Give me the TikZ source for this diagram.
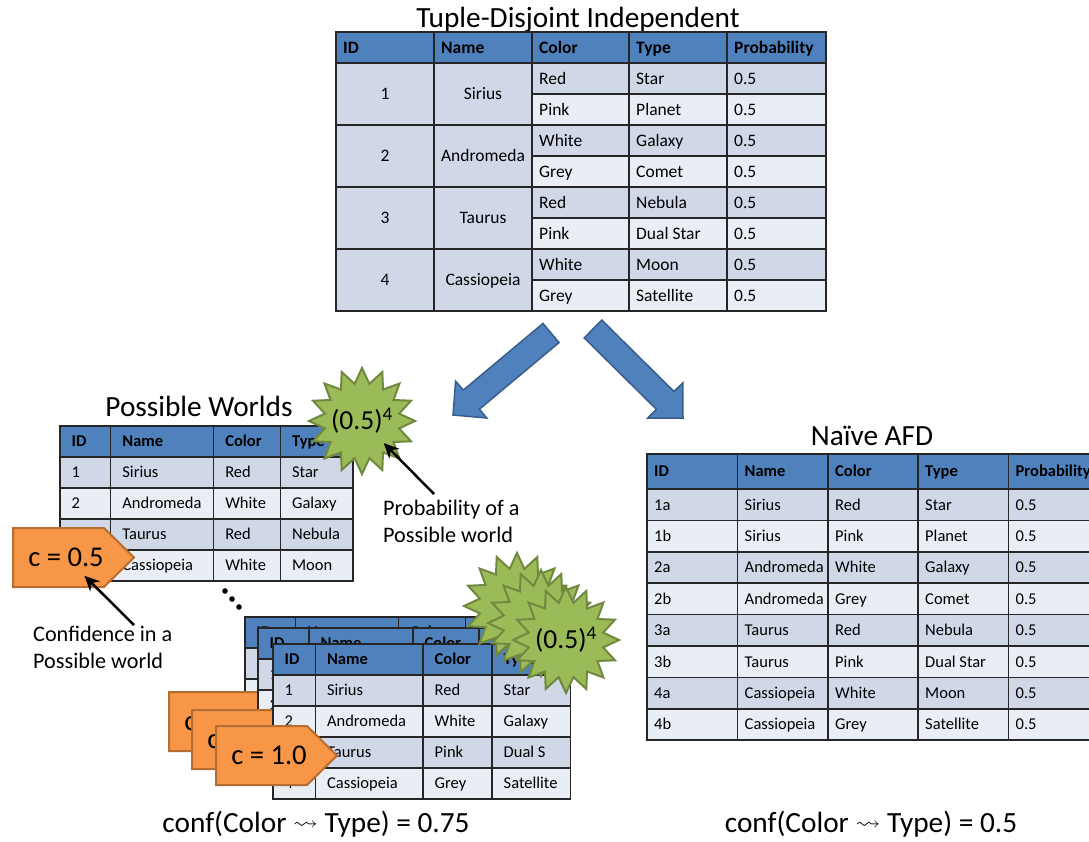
\documentclass[tikz,border=0pt]{standalone}
\usepackage{fontspec}
\setmainfont{Carlito}
\usepackage{amssymb}
\usetikzlibrary{shapes.geometric,arrows.meta}

\definecolor{hdrblue}{HTML}{4F81BD}
\definecolor{rowdark}{HTML}{D0D8E8}
\definecolor{rowlight}{HTML}{E9EDF4}
\definecolor{arrowedge}{HTML}{385D8A}
\definecolor{burstfill}{HTML}{9BBB59}
\definecolor{burstedge}{HTML}{71893F}
\definecolor{tagfill}{HTML}{F79646}
\definecolor{tagedge}{HTML}{B66D31}

\newcommand{\squig}{\raisebox{0.2ex}{\scalebox{0.85}[0.7]{$\rightsquigarrow$}}}

\tikzset{
  gridln/.style={line width=1.5pt,black!85},
  bigtext/.style={inner sep=0pt,anchor=west,text height=11.3pt,text depth=0pt,font=\fontsize{17.5}{20}\selectfont},
  bighead/.style={bigtext,font=\fontsize{17.5}{20}\selectfont\bfseries},
  celltext/.style={inner sep=0pt,anchor=west,text height=10.6pt,text depth=0pt,font=\fontsize{16.5}{18}\selectfont},
  cellhead/.style={celltext,font=\fontsize{16.5}{18}\selectfont\bfseries},
  headline/.style={inner sep=0pt,anchor=base,font=\fontsize{29.3}{32}\selectfont},
  note/.style={inner sep=0pt,anchor=north west,align=left,font=\fontsize{22.2}{27}\selectfont},
  blockarrow/.style={fill=hdrblue,draw=arrowedge,line width=1.5pt,line join=miter},
  burst/.style={star,star points=16,star point ratio=1.4,minimum size=106pt,inner sep=0pt,fill=burstfill,draw=burstedge,line width=2pt},
  bursttext/.style={inner sep=0pt,font=\fontsize{27.5}{30}\selectfont},
  tag/.style={fill=tagfill,draw=tagedge,line width=2pt,line join=miter},
  tagtext/.style={inner sep=0pt,text height=18.4pt,text depth=0pt,font=\fontsize{28.6}{31}\selectfont},
  callout/.style={-{Stealth[length=15pt,width=14pt]},line width=2.5pt}
}

% world table: #1 name, #2 top left, #3/#4/#5 left of Name/Color/Type, #6 width, #7 rows
\newcommand{\worldtable}[7]{%
  \begin{scope}[shift={#2}]
    \fill[hdrblue] (0,0) rectangle (#6,31);
    \foreach \rw/\idn/\nm/\clr/\typ in {#7}{
      \ifodd\rw\relax \def\rowcol{rowdark}\else \def\rowcol{rowlight}\fi
      \fill[\rowcol] (0,31*\rw) rectangle (#6,31*\rw+31);
      \node[celltext] (#1-\rw-id) at (11.5,31*\rw+15.5) {\idn};
      \node[celltext] (#1-\rw-name) at (#3+11.5,31*\rw+15.5) {\nm};
      \node[celltext] (#1-\rw-color) at (#4+11.5,31*\rw+15.5) {\clr};
      \node[celltext] (#1-\rw-type) at (#5+11.5,31*\rw+15.5) {\typ};
    }
    \node[cellhead] (#1-h-id) at (11.5,15.5) {ID};
    \node[cellhead] (#1-h-name) at (#3+11.5,15.5) {Name};
    \node[cellhead] (#1-h-color) at (#4+11.5,15.5) {Color};
    \node[cellhead] (#1-h-type) at (#5+11.5,15.5) {Type};
    \foreach \yy in {31,62,93,124} \draw[gridln] (0,\yy) -- (#6,\yy);
    \foreach \xx in {#3,#4,#5} \draw[gridln] (\xx,0) -- (\xx,155);
    \draw[gridln] (0,0) rectangle (#6,155);
  \end{scope}}

% confidence tag: #1 name, #2 top left, #3 text
\newcommand{\conftag}[3]{%
  \begin{scope}[shift={#2}]
    \draw[tag] (0,0) -- (91,0) -- (121,29.5) -- (91,59) -- (0,59) -- cycle;
    \node[tagtext] (#1) at (53,29.5) {#3};
  \end{scope}}

\begin{document}
\begin{tikzpicture}[x=1pt,y=-1pt]
  \useasboundingbox (0,0) rectangle (1089,841);
  \clip (0,0) rectangle (1089,841);
  \fill[white] (0,0) rectangle (1089,841);

  % tuple-disjoint independent table
  \node[headline] (tdi-title) at (578,27) {Tuple-Disjoint Independent};
  \begin{scope}[shift={(336,32)}]
    \fill[hdrblue] (0,0) rectangle (490,31);
    \foreach \rw/\clr/\typ in {1/Red/Star,2/Pink/Planet,3/White/Galaxy,4/Grey/Comet,5/Red/Nebula,6/Pink/Dual Star,7/White/Moon,8/Grey/Satellite}{
      \ifodd\rw\relax \def\rowcol{rowdark}\else \def\rowcol{rowlight}\fi
      \fill[\rowcol] (196,31*\rw) rectangle (490,31*\rw+31);
      \node[bigtext] (tdi-\rw-color) at (203,31*\rw+15.5) {\clr};
      \node[bigtext] (tdi-\rw-type) at (300,31*\rw+15.5) {\typ};
      \node[bigtext] (tdi-\rw-prob) at (398,31*\rw+15.5) {0.5};
    }
    \fill[rowdark] (0,31) rectangle (196,279);
    \foreach \k/\nm in {1/Sirius,2/Andromeda,3/Taurus,4/Cassiopeia}{
      \node[bigtext,anchor=center] (tdi-\k-id) at (49,62*\k) {\k};
      \node[bigtext,anchor=center] (tdi-\k-name) at (147,62*\k) {\nm};
    }
    \foreach \xx/\hd in {0/ID,98/Name,196/Color,293/Type,391/Probability}
      \node[bighead] (tdi-h-\hd) at (\xx+7,15.5) {\hd};
    \draw[gridln] (0,31) -- (490,31);
    \foreach \yy in {93,155,217} \draw[gridln] (0,\yy) -- (490,\yy);
    \foreach \yy in {62,124,186,248} \draw[gridln] (196,\yy) -- (490,\yy);
    \foreach \xx in {98,196,293,391} \draw[gridln] (\xx,0) -- (\xx,279);
    \draw[gridln] (0,0) rectangle (490,279);
  \end{scope}

  % the two block arrows
  \draw[blockarrow] (543.0,323.4) -- (463.4,390.0) -- (455.6,381.2) -- (453,415)
    -- (486.8,418.0) -- (479.4,409.2) -- (559.0,342.6) -- cycle;
  \draw[blockarrow] (601.8,320.1) -- (674.0,391.5) -- (682.8,382.8) -- (683,418)
    -- (647.6,418.2) -- (656.4,409.3) -- (584.2,337.9) -- cycle;

  % possible worlds
  \node[headline] (pw-title) at (199,416) {Possible Worlds};
  \worldtable{pw1}{(60,426)}{50.7}{153.6}{220.4}{293}
    {1/1/Sirius/Red/Star,2/2/Andromeda/White/Galaxy,3/3/Taurus/Red/Nebula,4/4/Cassiopeia/White/Moon}
  \node[burst] (pw1-burst) at (362,421) {};
  \node[bursttext] (pw1-prob) at (pw1-burst) {(0.5)\textsuperscript{4}};
  \node[note] (prob-note) at (383,500) {Probability of a\\Possible world};
  \coordinate (prob-tail) at (434,494);
  \draw[callout,shorten >=31pt] (prob-tail) -- (pw1-burst.center);

  \conftag{pw1-conf}{(13,528)}{c = 0.5}
  \node[note] (conf-note) at (33,626) {Confidence in a\\Possible world};
  \coordinate (conf-tail) at (134,625);
  \draw[callout,shorten >=26pt] (conf-tail) -- (pw1-conf.center);

  \foreach \xx/\yy in {225/591,232/599,239/607}
    \fill (\xx,\yy) circle (2.8pt);

  % stack of further worlds
  \worldtable{pw2}{(245,617)}{50.7}{153.6}{220.4}{293}
    {1/1/Sirius/Pink/Planet,2/2/Andromeda/Grey/Comet,3/3/Taurus/Red/Nebula,4/4/Cassiopeia/White/Moon}
  \conftag{pw2-conf}{(169,692)}{c = 1.0}
  \worldtable{pw3}{(258,628)}{51}{155}{221}{293}
    {1/1/Sirius/Red/Star,2/2/Andromeda/Grey/Comet,3/3/Taurus/Pink/Dual Star,4/4/Cassiopeia/White/Moon}
  \conftag{pw3-conf}{(192,710)}{c = 1.0}
  \worldtable{pw4}{(273,644)}{42.4}{150}{219}{297.5}
    {1/1/Sirius/Red/Star,2/2/Andromeda/White/Galaxy,3/3/Taurus/Pink/Dual S,4/4/Cassiopeia/Grey/Satellite}
  \conftag{pw4-conf}{(216,726)}{c = 1.0}
  \foreach \nm/\xx/\yy in {pw2/517/606,pw3/541/623,pw4/566/640}
    \node[burst] (\nm-burst) at (\xx,\yy) {};
  \node[bursttext] (pw4-prob) at (pw4-burst) {(0.5)\textsuperscript{4}};

  \node[headline] (pw-conf) at (316,832) {conf(Color \squig{} Type) = 0.75};

  % naive AFD table
  \node[headline] (afd-title) at (872,445) {Naïve AFD};
  \begin{scope}[shift={(647,454)}]
    \fill[hdrblue] (0,0) rectangle (460,35);
    \foreach \rw/\idn/\nm/\clr/\typ in {1/1a/Sirius/Red/Star,2/1b/Sirius/Pink/Planet,3/2a/Andromeda/White/Galaxy,4/2b/Andromeda/Grey/Comet,5/3a/Taurus/Red/Nebula,6/3b/Taurus/Pink/Dual Star,7/4a/Cassiopeia/White/Moon,8/4b/Cassiopeia/Grey/Satellite}{
      \ifodd\rw\relax \def\rowcol{rowdark}\else \def\rowcol{rowlight}\fi
      \fill[\rowcol] (0,31.4*\rw+3.6) rectangle (460,31.4*\rw+35);
      \foreach \xx/\cell/\txt in {0/id/\idn,90.5/name/\nm,181/color/\clr,271/type/\typ,361.5/prob/0.5}
        \node[celltext] (afd-\rw-\cell) at (\xx+7,31.4*\rw+19.3) {\txt};
    }
    \foreach \xx/\hd in {0/ID,90.5/Name,181/Color,271/Type,361.5/Probability}
      \node[cellhead] (afd-h-\hd) at (\xx+7,17.5) {\hd};
    \foreach \k in {1,...,7} \draw[gridln] (0,35+31.4*\k) -- (460,35+31.4*\k);
    \draw[gridln] (0,35) -- (460,35);
    \foreach \xx in {90.5,181,271,361.5} \draw[gridln] (\xx,0) -- (\xx,286.2);
    \draw[gridln] (0,0) rectangle (460,286.2);
  \end{scope}
  \node[headline] (afd-conf) at (871,832) {conf(Color \squig{} Type) = 0.5};
\end{tikzpicture}
\end{document}
